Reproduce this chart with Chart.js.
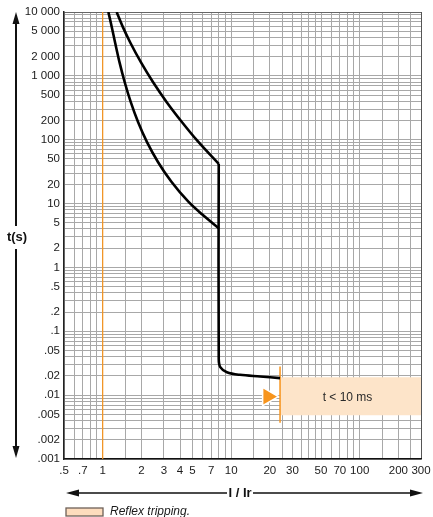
<!DOCTYPE html>
<html>
<head>
<meta charset="utf-8">
<script src="https://cdn.jsdelivr.net/npm/chart.js@4.4.0/dist/chart.umd.min.js"></script>
<style>
  html, body { margin: 0; padding: 0; background: #fff; }
  #wrap { width: 433px; height: 517px; }
</style>
</head>
<body>
<div id="wrap"><canvas id="chart" width="433" height="517"></canvas></div>
<script>
// Tick labels of the I / Ir axis
var xTickValues = [0.5, 0.7, 1, 2, 3, 4, 5, 7, 10, 20, 30, 50, 70, 100, 200, 300];
var xTickLabels = ['.5', '.7', '1', '2', '3', '4', '5', '7', '10', '20', '30', '50', '70', '100', '200', '300'];

// Tick labels of the t(s) axis
var yTickValues = [10000, 5000, 2000, 1000, 500, 200, 100, 50, 20, 10, 5, 2, 1, 0.5, 0.2, 0.1, 0.05, 0.02, 0.01, 0.005, 0.002, 0.001];
var yTickLabels = ['10 000', '5 000', '2 000', '1 000', '500', '200', '100', '50', '20', '10', '5', '2', '1', '.5', '.2', '.1', '.05', '.02', '.01', '.005', '.002', '.001'];

// Grid lines
var xGridLines = [0.5, 0.6, 0.7, 0.8, 0.9,
                  1, 1.5, 2, 3, 4, 5, 6, 7, 8, 9,
                  10, 15, 20, 25, 30, 35, 40, 45, 50, 60, 70, 80, 90,
                  100, 150, 200, 250, 300];
var yGridSteps = [1, 2, 3, 4, 5, 6, 7, 8, 9];
var yDecades = [0.001, 0.01, 0.1, 1, 10, 100, 1000];

// Long time delay curves (upper and lower limit)
var upperI = [1.284, 1.434, 1.642, 1.992, 2.476, 3.162, 4.089, 5.49, 8];
var upperT = [10000, 5845, 3296, 1610, 787, 384, 195, 95, 42];
var lowerI = [1.107, 1.158, 1.25, 1.354, 1.486, 1.657, 1.888, 2.213, 2.693, 3.427, 4.642, 5.961, 8];
var lowerT = [10000, 6745, 3296, 1610, 787, 384, 188, 91.8, 44.8, 21.9, 10.7, 6.72, 4.11];

// Instantaneous part
var instI = [8, 8, 8.22, 9.26, 11.7, 16.8, 24];
var instT = [42, 0.037, 0.0274, 0.0229, 0.0208, 0.0196, 0.0185];

// Ir line, reflex tripping zone
var irI = [1, 1];
var irT = [0.001, 10000];
var reflexLineI = [24, 24];
var reflexLineT = [0.028, 0.0037];
var reflexBoxI = [24, 300];
var reflexBoxT = [0.0191, 0.00485];
var reflexArrowI = [19.3];
var reflexArrowT = [0.0095];

function toPoints(xs, ys) {
  var pts = [];
  for (var i = 0; i < xs.length; ++i) {
    pts.push({ x: xs[i], y: ys[i] });
  }
  return pts;
}

function findLabel(values, labels, v) {
  for (var i = 0; i < values.length; ++i) {
    if (Math.abs(values[i] - v) / values[i] < 1e-6) return labels[i];
  }
  return '';
}

var yGridLines = [];
for (var d = 0; d < yDecades.length; ++d) {
  for (var s = 0; s < yGridSteps.length; ++s) {
    yGridLines.push(Number((yDecades[d] * yGridSteps[s]).toPrecision(3)));
  }
}
yGridLines.push(10000);

var orange = '#f7941d';
var tickFont = { family: "'Liberation Sans', Arial, sans-serif", size: 11.5 };

// Arrows, axis titles, box text and legend
var decorPlugin = {
  id: 'decor',
  afterDatasetsDraw: function(chart) {
    var ctx = chart.ctx;
    var xs = chart.scales.x, ys = chart.scales.y;
    var cx = xs.getPixelForValue(Math.sqrt(reflexBoxI[0] * reflexBoxI[1]));
    var cy = ys.getPixelForValue(Math.sqrt(reflexBoxT[0] * reflexBoxT[1]));
    ctx.save();
    ctx.fillStyle = '#2a2a2a';
    ctx.font = "12px 'Liberation Sans', Arial, sans-serif";
    ctx.textAlign = 'center';
    ctx.textBaseline = 'middle';
    ctx.fillText('t < 10 ms', cx - 3, cy + 1);
    ctx.restore();
  },
  afterDraw: function(chart) {
    var ctx = chart.ctx;
    var area = chart.chartArea;
    ctx.save();
    ctx.strokeStyle = '#111';
    ctx.fillStyle = '#111';

    // vertical t(s) arrow
    var ax = 16;
    ctx.lineWidth = 2;
    ctx.beginPath();
    ctx.moveTo(ax, area.top + 8);
    ctx.lineTo(ax, 226);
    ctx.moveTo(ax, 249);
    ctx.lineTo(ax, 449);
    ctx.stroke();
    ctx.beginPath();
    ctx.moveTo(ax, area.top);
    ctx.lineTo(ax - 3.5, area.top + 12);
    ctx.lineTo(ax + 3.5, area.top + 12);
    ctx.closePath();
    ctx.fill();
    ctx.beginPath();
    ctx.moveTo(ax, 458);
    ctx.lineTo(ax - 3.5, 446);
    ctx.lineTo(ax + 3.5, 446);
    ctx.closePath();
    ctx.fill();
    ctx.font = "bold 13px 'Liberation Sans', Arial, sans-serif";
    ctx.textAlign = 'center';
    ctx.textBaseline = 'middle';
    ctx.fillText('t(s)', 17, 237);

    // horizontal I / Ir arrow
    var ay = 493;
    ctx.lineWidth = 1.6;
    ctx.beginPath();
    ctx.moveTo(74, ay);
    ctx.lineTo(227, ay);
    ctx.moveTo(253, ay);
    ctx.lineTo(414, ay);
    ctx.stroke();
    ctx.beginPath();
    ctx.moveTo(66, ay);
    ctx.lineTo(79, ay - 3.5);
    ctx.lineTo(79, ay + 3.5);
    ctx.closePath();
    ctx.fill();
    ctx.beginPath();
    ctx.moveTo(423, ay);
    ctx.lineTo(410, ay - 3.5);
    ctx.lineTo(410, ay + 3.5);
    ctx.closePath();
    ctx.fill();
    ctx.fillText('I / Ir', 240, ay);

    // legend
    ctx.fillStyle = '#fddcbd';
    ctx.fillRect(66, 508, 37, 8);
    ctx.strokeStyle = '#6e6058';
    ctx.lineWidth = 1.3;
    ctx.strokeRect(66, 508, 37, 8);
    ctx.fillStyle = '#1a1a1a';
    ctx.font = "italic 12px 'Liberation Sans', Arial, sans-serif";
    ctx.textAlign = 'left';
    ctx.fillText('Reflex tripping.', 110, 512);
    ctx.restore();
  }
};

var chart = new Chart(document.getElementById('chart'), {
  type: 'line',
  data: {
    datasets: [
      {
        data: toPoints(upperI, upperT),
        borderColor: '#000', borderWidth: 2.6, pointRadius: 0,
        cubicInterpolationMode: 'monotone', order: 1
      },
      {
        data: toPoints(lowerI, lowerT),
        borderColor: '#000', borderWidth: 2.6, pointRadius: 0,
        cubicInterpolationMode: 'monotone', order: 1
      },
      {
        data: toPoints(instI, instT),
        borderColor: '#000', borderWidth: 2.6, pointRadius: 0, tension: 0.35, order: 1
      },
      {
        data: toPoints(irI, irT),
        borderColor: orange, borderWidth: 1.2, pointRadius: 0, order: 2
      },
      {
        data: toPoints(reflexLineI, reflexLineT),
        borderColor: orange, borderWidth: 1.5, pointRadius: 0, order: 2
      },
      {
        data: toPoints(reflexBoxI, [reflexBoxT[0], reflexBoxT[0]]),
        borderWidth: 0, pointRadius: 0,
        backgroundColor: '#fde4c9',
        fill: { value: reflexBoxT[1] },
        order: 10
      },
      {
        data: toPoints(reflexArrowI, reflexArrowT),
        showLine: false,
        pointStyle: 'triangle', rotation: 90, pointRadius: 10.5,
        backgroundColor: orange, borderColor: '#fff', borderWidth: 1.5,
        order: 2
      }
    ]
  },
  options: {
    responsive: false,
    maintainAspectRatio: false,
    animation: false,
    layout: { padding: { top: 9, right: 12, left: 0, bottom: 0 } },
    plugins: {
      legend: { display: false },
      tooltip: { enabled: false },
      title: { display: false }
    },
    scales: {
      x: {
        type: 'logarithmic',
        position: 'bottom',
        min: 0.5,
        max: 300,
        afterBuildTicks: function(scale) {
          scale.ticks = xGridLines.map(function(v) { return { value: v }; });
        },
        afterFit: function(scale) {
          scale.height = 58;
          scale.paddingLeft = 0;
          scale.paddingRight = 0;
        },
        ticks: {
          autoSkip: false,
          maxRotation: 0,
          padding: 5,
          color: '#1a1a1a',
          font: tickFont,
          callback: function(value) { return findLabel(xTickValues, xTickLabels, value); }
        },
        grid: {
          drawTicks: false,
          lineWidth: 1,
          color: function(c) {
            if (c.tick && c.tick.value === 300) return '#555';
            return '#a8a8a8';
          }
        },
        border: { color: '#111', width: 1.5 }
      },
      y: {
        type: 'logarithmic',
        position: 'left',
        min: 0.001,
        max: 10000,
        afterBuildTicks: function(scale) {
          scale.ticks = yGridLines.map(function(v) { return { value: v }; });
        },
        afterFit: function(scale) {
          scale.width = 64;
          scale.paddingTop = 0;
          scale.paddingBottom = 0;
        },
        ticks: {
          autoSkip: false,
          padding: 4,
          color: '#1a1a1a',
          font: tickFont,
          callback: function(value) { return findLabel(yTickValues, yTickLabels, value); }
        },
        grid: {
          drawTicks: false,
          lineWidth: 1,
          color: function(c) {
            if (c.tick && c.tick.value === 10000) return '#666';
            return '#a8a8a8';
          }
        },
        border: { color: '#222', width: 1.5 }
      }
    }
  },
  plugins: [decorPlugin]
});
</script>
</body>
</html>
